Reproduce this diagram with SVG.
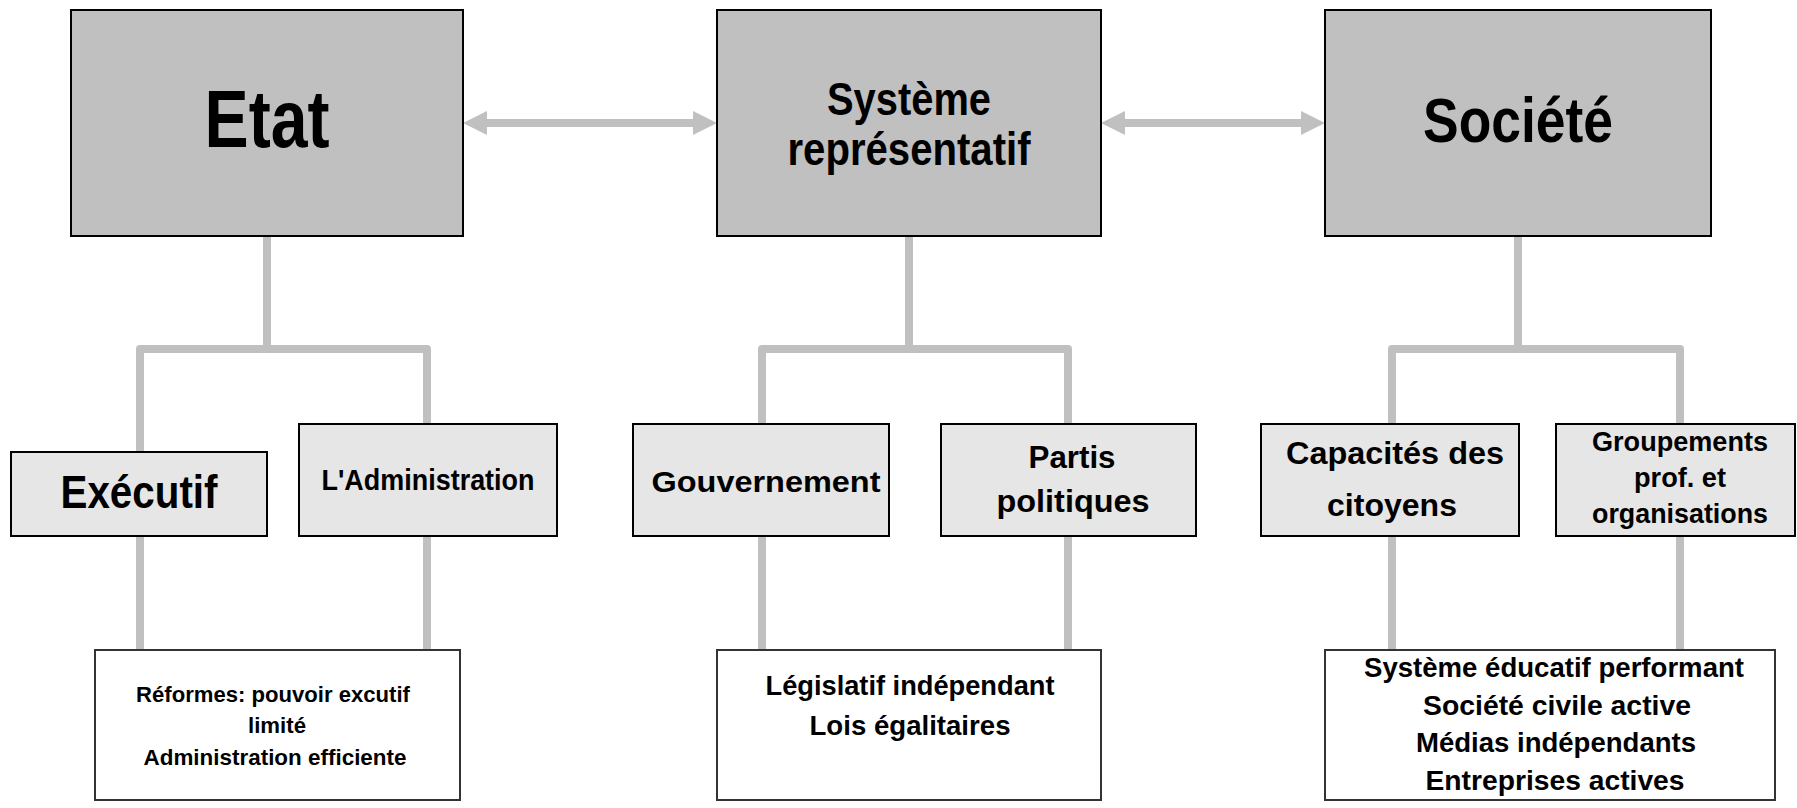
<svg xmlns="http://www.w3.org/2000/svg" width="1797" height="808" viewBox="0 0 1797 808">
<style>
.big{fill:#c0c0c0;stroke:#000;stroke-width:2}
.mid{fill:#e6e6e6;stroke:#000;stroke-width:2}
.low{fill:#fff;stroke:#333;stroke-width:2}
text{font-family:"Liberation Sans",Arial,sans-serif;font-weight:bold;fill:#000;text-anchor:middle}
.conn path{fill:none;stroke:#c0c0c0;stroke-width:8;stroke-linecap:round;stroke-linejoin:round}
.arr line{stroke:#c0c0c0;stroke-width:8}
</style>
<defs>
<marker id="ah" viewBox="0 0 24 24" markerWidth="24" markerHeight="24" refX="4" refY="12" orient="auto-start-reverse" markerUnits="userSpaceOnUse">
<path d="M0,0 L24,12 L0,24 z" fill="#c0c0c0"/>
</marker>
</defs>
<rect width="1797" height="808" fill="#fff"/>
<g id="connectors" class="conn">
<path d="M267 236 V349"/>
<path d="M140 452 V349 H427 V424"/>
<path d="M140 536 V650"/>
<path d="M427 536 V650"/>
<path d="M909 236 V349"/>
<path d="M762 424 V349 H1068 V424"/>
<path d="M762 536 V650"/>
<path d="M1068 536 V650"/>
<path d="M1518 236 V349"/>
<path d="M1392 424 V349 H1680 V424"/>
<path d="M1392 536 V650"/>
<path d="M1680 536 V650"/>
</g>
<g id="arrows" class="arr">
<line x1="483" y1="123" x2="697" y2="123" marker-start="url(#ah)" marker-end="url(#ah)"/>
<line x1="1121" y1="123" x2="1305" y2="123" marker-start="url(#ah)" marker-end="url(#ah)"/>
</g>
<g id="etat">
<rect class="big" x="71" y="10" width="392" height="226"/>
<text x="267" y="147" font-size="82" textLength="125" lengthAdjust="spacingAndGlyphs">Etat</text>
</g>
<g id="systeme">
<rect class="big" x="717" y="10" width="384" height="226"/>
<text x="909" y="115" font-size="46" textLength="164" lengthAdjust="spacingAndGlyphs">Système</text>
<text x="909" y="165" font-size="46" textLength="243" lengthAdjust="spacingAndGlyphs">représentatif</text>
</g>
<g id="societe">
<rect class="big" x="1325" y="10" width="386" height="226"/>
<text x="1518" y="142" font-size="63" textLength="190" lengthAdjust="spacingAndGlyphs">Société</text>
</g>
<g id="executif">
<rect class="mid" x="11" y="452" width="256" height="84"/>
<text x="139" y="508" font-size="47" textLength="157" lengthAdjust="spacingAndGlyphs">Exécutif</text>
</g>
<g id="administration">
<rect class="mid" x="299" y="424" width="258" height="112"/>
<text x="428" y="490" font-size="29" textLength="213" lengthAdjust="spacingAndGlyphs">L'Administration</text>
</g>
<g id="gouvernement">
<rect class="mid" x="633" y="424" width="256" height="112"/>
<text x="766" y="492" font-size="30" textLength="229" lengthAdjust="spacingAndGlyphs">Gouvernement</text>
</g>
<g id="partis">
<rect class="mid" x="941" y="424" width="255" height="112"/>
<text x="1072" y="468" font-size="32" textLength="87" lengthAdjust="spacingAndGlyphs">Partis</text>
<text x="1073" y="512" font-size="32" textLength="153" lengthAdjust="spacingAndGlyphs">politiques</text>
</g>
<g id="capacites">
<rect class="mid" x="1261" y="424" width="258" height="112"/>
<text x="1395" y="464" font-size="32" textLength="218" lengthAdjust="spacingAndGlyphs">Capacités des</text>
<text x="1392" y="516" font-size="32" textLength="130" lengthAdjust="spacingAndGlyphs">citoyens</text>
</g>
<g id="groupements">
<rect class="mid" x="1556" y="424" width="239" height="112"/>
<text x="1680" y="451" font-size="27" textLength="176" lengthAdjust="spacingAndGlyphs">Groupements</text>
<text x="1680" y="487" font-size="27" textLength="92" lengthAdjust="spacingAndGlyphs">prof. et</text>
<text x="1680" y="523" font-size="27" textLength="176" lengthAdjust="spacingAndGlyphs">organisations</text>
</g>
<g id="reformes">
<rect class="low" x="95" y="650" width="365" height="150"/>
<text x="273" y="702" font-size="22.3" textLength="274" lengthAdjust="spacingAndGlyphs">Réformes: pouvoir excutif</text>
<text x="277" y="733" font-size="22.3" textLength="58" lengthAdjust="spacingAndGlyphs">limité</text>
<text x="275" y="765" font-size="22.3" textLength="263" lengthAdjust="spacingAndGlyphs">Administration efficiente</text>
</g>
<g id="legislatif">
<rect class="low" x="717" y="650" width="384" height="150"/>
<text x="910" y="695" font-size="27" textLength="289" lengthAdjust="spacingAndGlyphs">Législatif indépendant</text>
<text x="910" y="735" font-size="27" textLength="201" lengthAdjust="spacingAndGlyphs">Lois égalitaires</text>
</g>
<g id="education">
<rect class="low" x="1325" y="650" width="450" height="150"/>
<text x="1554" y="677" font-size="28" textLength="380" lengthAdjust="spacingAndGlyphs">Système éducatif performant</text>
<text x="1557" y="715" font-size="28" textLength="268" lengthAdjust="spacingAndGlyphs">Société civile active</text>
<text x="1556" y="752" font-size="28" textLength="280" lengthAdjust="spacingAndGlyphs">Médias indépendants</text>
<text x="1555" y="790" font-size="28" textLength="259" lengthAdjust="spacingAndGlyphs">Entreprises actives</text>
</g>
</svg>
